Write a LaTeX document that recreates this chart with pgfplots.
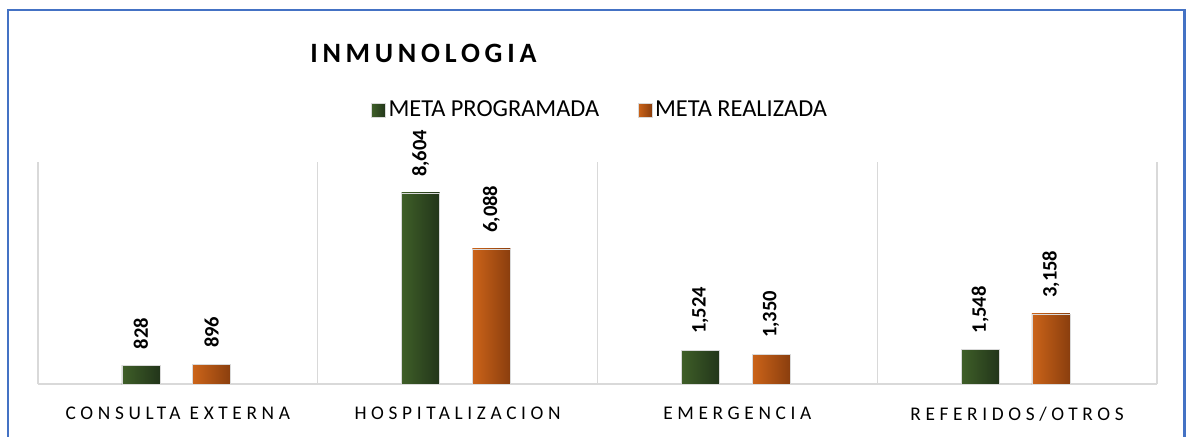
\documentclass[border=0pt]{standalone}
\usepackage{fontspec}
\setmainfont{Carlito}
\newfontfamily\spacedfont[LetterSpace=24]{Carlito}
\newfontfamily\titlefont[LetterSpace=17]{Carlito}
\usepackage{pgfplots}
\pgfplotsset{compat=1.18}
\definecolor{frameblue}{HTML}{4472C4}
\definecolor{gridgray}{HTML}{D9D9D9}
\definecolor{gL}{HTML}{3F5F28}
\definecolor{gM}{HTML}{4E7333}
\definecolor{gR}{HTML}{22351A}
\definecolor{oL}{HTML}{CC6419}
\definecolor{oM}{HTML}{E8772A}
\definecolor{oR}{HTML}{8A3E0E}
\pgfplotsset{
  gbar/.style={draw=gridgray, line width=0.4pt, left color=gL, middle color=gM, right color=gR, bar shift=-27.75pt},
  obar/.style={draw=gridgray, line width=0.4pt, left color=oL, middle color=oM, right color=oR, bar shift=25.3pt},
}
\begin{document}
\begin{tikzpicture}
\path[use as bounding box] (0,0) rectangle (889.5pt,327pt);
\fill[white] (0,0) rectangle (889.5pt,327pt);
\begin{scope}
\clip (0,0) rectangle (889.5pt,327pt);
\draw[frameblue, line width=1.9pt] (6pt,-10pt) rectangle (888.5pt,319.5pt);
\end{scope}
\begin{axis}[
  at={(28.5pt,39pt)}, anchor=south west,
  scale only axis, width=839.25pt, height=166.5pt,
  xmin=0.5, xmax=4.5, ymin=0, ymax=10000,
  ybar, bar width=28.5pt,
  axis y line=none, axis x line*=bottom,
  x axis line style={draw=gridgray, line width=1.1pt},
  xtick={1,2,3,4},
  xticklabels={CONSULTA EXTERNA,HOSPITALIZACION,EMERGENCIA,REFERIDOS/OTROS},
  minor xtick={0.5,1.5,2.5,3.5,4.5},
  xminorgrids, minor grid style={draw=gridgray, line width=1.1pt},
  major tick length=0pt, minor tick length=0pt,
  xticklabel style={font=\spacedfont\fontsize{14.5}{16}\selectfont, anchor=north, inner sep=0pt, yshift=-17.25pt},
  nodes near coords,
  every node near coord/.append style={font=\bfseries\fontsize{15.4}{17}\selectfont, rotate=90, anchor=west, inner xsep=12pt, inner ysep=0pt, text=black},
  title={\titlefont\bfseries INMUNOLOGIA},
  title style={at={(0.2431,1.455)}, anchor=west, inner sep=0pt, font=\fontsize{21}{24}\selectfont},
  legend columns=2,
  legend style={at={(0.5027,1.234)}, anchor=center, draw=none, fill=none,
    font=\fontsize{18.3}{20}\selectfont,
    /tikz/every even column/.append style={column sep=27pt}},
  legend image code/.code={\fill[#1] (0pt,-5.25pt) rectangle (10.5pt,5.25pt);},
  /pgf/number format/1000 sep={,},
  /pgf/number format/assume math mode=true,
]
% META PROGRAMADA
\addplot[gbar] coordinates {(1,828)};
\addplot[gbar, forget plot] coordinates {(2,8604)};
\addplot[gbar, forget plot] coordinates {(3,1524)};
\addplot[gbar, forget plot] coordinates {(4,1548)};
% META REALIZADA
\addplot[obar] coordinates {(1,896)};
\addplot[obar, forget plot] coordinates {(2,6088)};
\addplot[obar, forget plot] coordinates {(3,1350)};
\addplot[obar, forget plot] coordinates {(4,3158)};
\legend{META PROGRAMADA, META REALIZADA}
\end{axis}
\end{tikzpicture}
\end{document}
